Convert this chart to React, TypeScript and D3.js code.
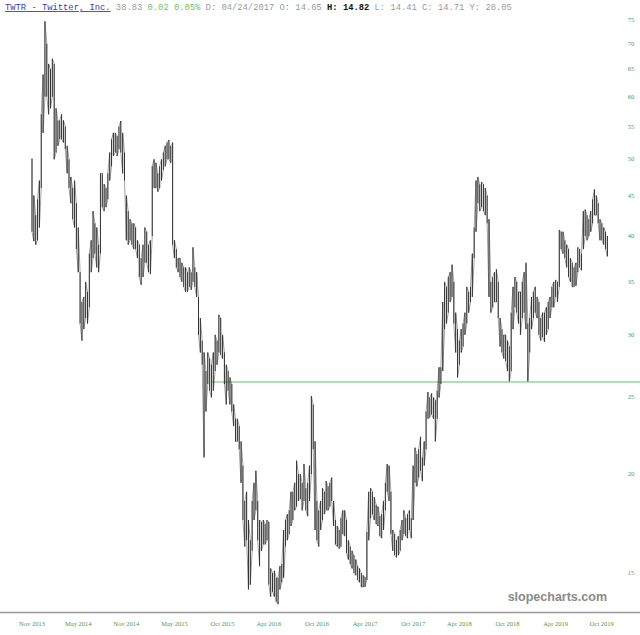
import React from "react";
import * as d3 from "d3";

// Weekly high / low of TWTR, Nov 2013 – Oct 2019
const highs: number[] = [
  50.1, 45.0, 42.5, 44.5, 47, 57, 64, 74.7, 70, 66, 65, 67, 66, 58, 56, 56, 57, 56, 55, 52,
  50, 47.5, 46, 47, 44, 41, 36, 33, 33.5, 35, 34, 38, 39.5, 43, 41.5, 41, 39, 48, 48, 46.5,
  46, 48, 51, 53, 54, 54, 53.5, 55, 55.9, 54, 51, 45, 43, 42, 41.5, 41.5, 41, 39.5, 39, 37.5,
  39, 41, 40.5, 39, 39.5, 49, 50, 49.5, 48, 49, 50, 51, 52, 52.5, 52.9, 52, 52.5, 39.5, 38.5, 37.5,
  37.5, 37, 36.5, 36.5, 36, 36.5, 36, 38.7, 36.5, 36, 33.5, 31.5, 29.5, 28.5, 27, 28.5, 28, 27.5,
  28.5, 30, 29.5, 31.8, 31.5, 30, 28.5, 27.5, 27, 26.5, 26, 24.5, 23.5, 23.5, 23, 22, 20.5, 18.5,
  19, 17.5, 16.5, 18.5, 19.5, 20.2, 18.5, 17.5, 17.4, 17.5, 17.3, 17.5, 17.4, 15.2, 15, 15.1, 14.8, 14.8,
  15.3, 15.4, 17, 17.5, 17.8, 18, 19, 19, 19.5, 20.8, 20, 20, 19.5, 20.6, 19.2, 19.5, 20.5, 25.1,
  24.5, 22, 18.5, 18, 18.5, 19.2, 19, 19.6, 19.3, 19.5, 19.8, 18.5, 17.5, 17.2, 17, 17.6, 18, 18,
  17.5, 16.5, 16.2, 16, 15.8, 15.6, 15.3, 15.2, 15, 14.9, 14.82, 16.9, 19, 19.2, 19, 18.7, 18.3, 18.2,
  17.7, 17.8, 18.5, 19.5, 20.6, 20.5, 19, 17, 16.8, 16.5, 16.7, 17, 17.5, 18, 17.6, 17.8, 18, 17.6,
  20.5, 21.6, 21.2, 21.5, 22.3, 21, 22, 24, 25.4, 25, 25.3, 25, 24.8, 25.5, 27.3, 27.3, 33, 35,
  34.5, 35.5, 36, 36.8, 35, 32, 30.5, 29.5, 30.5, 31, 32, 34.5, 34, 34.5, 38, 41, 47, 47.5,
  46.5, 46.8, 46.5, 46, 45, 42, 35, 35.5, 36, 36.3, 35, 31.5, 30.5, 30, 30, 29.5, 29, 32,
  34.5, 35.5, 35, 34, 34, 35, 36, 37, 31, 31.5, 33.5, 34, 34.5, 33.5, 33, 31.5, 32, 32,
  32.5, 33, 33.5, 34.5, 35, 35.2, 35, 40.7, 40.5, 40.5, 39.5, 39, 38.5, 37.5, 37, 36.5, 37, 38.7,
  38.5, 38, 43, 43.2, 42.5, 42, 43, 44.5, 45.8, 45, 44, 42, 41.5, 41, 40.5, 40,
];
const lows: number[] = [
  40.5, 39.4, 39.0, 39.5, 41, 46, 54, 60, 60, 57, 58, 60, 50, 51, 52, 53, 53, 52.5, 51.5, 48,
  46, 44, 42, 41, 38.5, 36, 31, 29.5, 30.5, 31.5, 31, 32.5, 36, 37.5, 38, 36.5, 36, 38, 43.5, 43,
  43.5, 44.5, 47, 49, 50.5, 51, 50.5, 51.5, 51, 48, 47, 39.5, 39, 39.5, 39, 38.5, 38.5, 37.5, 35.5, 34.7,
  35.5, 37, 37, 36, 35.8, 40, 46, 46, 45.5, 46, 47, 48.5, 49, 50, 50, 49.5, 39, 37.5, 36.5, 36,
  35.5, 35, 34.5, 34, 34, 34.5, 34.2, 35, 34.5, 33.5, 30, 28.5, 27.5, 21, 24, 26, 25.5, 25,
  25.5, 27, 27.5, 28.5, 28.3, 28, 26, 24.5, 25.5, 24.5, 24, 23, 22, 22, 21.5, 19.5, 17.5, 16.2,
  16.5, 14.3, 14.5, 16, 17.5, 18, 16.5, 15.3, 16, 16.3, 16.3, 16.5, 14.5, 14, 14.2, 14, 13.8, 13.7,
  14.3, 14.6, 14.8, 16.2, 16.5, 16.8, 17.2, 17.5, 18, 18.2, 18.5, 18.6, 18, 18.5, 18, 17.7, 18.5, 20,
  21.5, 17, 16.5, 16.2, 17, 17.5, 17.8, 18, 18, 18.2, 18.5, 17.2, 16.3, 16.2, 16.1, 16.2, 16.8, 16.7,
  15.9, 15.6, 15.4, 15.2, 15, 14.9, 14.7, 14.6, 14.4, 14.4, 14.41, 14.7, 16.5, 17.6, 17.8, 17.5, 17.3, 17.2,
  16.7, 16.6, 17, 18, 19, 18.5, 16.8, 16, 15.8, 15.7, 15.8, 16, 16.5, 16.8, 16.7, 16.6, 17, 16.6,
  17.5, 19.5, 19.3, 19.8, 20.2, 19.6, 20.5, 21.5, 23.5, 23.6, 23.8, 23.5, 22, 23.5, 25, 26, 27, 30.5,
  31, 32, 33, 33.5, 31, 28.5, 26.5, 27.5, 28.5, 29, 30, 31, 32, 33, 33.5, 37.5, 40.5, 44,
  43, 43.5, 43, 42.5, 41.5, 33.5, 32, 32.5, 33, 33, 31.5, 29, 28.5, 28, 27.8, 27, 26.2, 27,
  30.5, 32.5, 32, 31, 30, 31.5, 32, 30.5, 26.2, 28.5, 30.5, 31.5, 32, 31.5, 30, 29.5, 29.8, 29.4,
  30, 30.5, 31.5, 32.5, 32.5, 33.5, 33, 34.5, 38.5, 38, 37.5, 36.5, 35.5, 35, 34.5, 34.5, 34.6, 36,
  36.5, 36.2, 38.5, 40, 39.5, 40, 40.5, 41.5, 42.5, 42.5, 41.5, 39.5, 39.5, 39, 38.5, 37.7,
];

const priceTicks: number[] = [15, 20, 25, 30, 35, 40, 45, 50, 55, 60, 65, 70, 75];
const timeTickIndex: number[] = [0, 25, 51, 77, 103, 128, 154, 180, 206, 231, 257, 283, 308];
const timeTickLabels: string[] = [
  "Nov 2013", "May 2014", "Nov 2014", "May 2015", "Oct 2015", "Apr 2016", "Oct 2016",
  "Apr 2017", "Oct 2017", "Apr 2018", "Oct 2018", "Apr 2019", "Oct 2019",
];
const supportLevel = 26.15;
const supportStartIndex = 97;

const W = 640;
const H = 635;

export default function App() {
  const n = highs.length;
  const x = d3.scaleLinear().domain([0, n - 1]).range([32, 607.4]);
  const y = d3.scaleLog().domain([15, 75]).range([573, 20]);
  const serif = "'Liberation Serif', 'DejaVu Serif', serif";
  const mono = "'Liberation Mono', 'DejaVu Sans Mono', monospace";

  // zig-zag path joining consecutive bars (alternating ends) to mimic dense daily bars
  const pts: [number, number][] = [];
  highs.forEach((h, i) => {
    const a: [number, number] = [x(i), y(h)];
    const b: [number, number] = [x(i), y(lows[i])];
    if (i % 2 === 0) pts.push(a, b);
    else pts.push(b, a);
  });
  const zig = d3.line()(pts) || "";

  return (
    <svg
      width={W}
      height={H}
      style={{ position: "absolute", left: 0, top: 0, background: "#fff" }}
    >
      <rect x={0} y={0} width={W} height={H} fill="#fff" />
      {/* header */}
      <text x={5} y={10} fontFamily={mono} fontSize={8.8} xmlSpace="preserve">
        <tspan fill="#3b3bb8" textDecoration="underline">TWTR - Twitter, Inc.</tspan>
        <tspan fill="#9a9a9a"> 38.83 </tspan>
        <tspan fill="#6cbf6c">0.02 0.05%</tspan>
        <tspan fill="#9a9a9a"> D: 04/24/2017 O: 14.65 </tspan>
        <tspan fill="#111" fontWeight="bold">H: 14.82</tspan>
        <tspan fill="#9a9a9a"> L: 14.41 C: 14.71 Y: 28.05</tspan>
      </text>

      {/* price axis labels */}
      {priceTicks.map((p) => (
        <text
          key={p}
          x={631}
          y={y(p) + 2}
          textAnchor="middle"
          fontFamily={serif}
          fontSize={6.5}
          fill="#4c9a4c"
        >
          {p}
        </text>
      ))}

      {/* support line */}
      <line
        x1={x(supportStartIndex)}
        x2={W}
        y1={y(supportLevel)}
        y2={y(supportLevel)}
        stroke="#9ad69a"
        strokeWidth={1.5}
      />

      {/* price bars */}
      <path d={zig} fill="none" stroke="#555" strokeWidth={0.55} />
      {highs.map((h, i) => (
        <line
          key={i}
          x1={x(i)}
          x2={x(i)}
          y1={y(h)}
          y2={y(lows[i])}
          stroke="#2e2e2e"
          strokeWidth={0.95}
        />
      ))}

      {/* watermark */}
      <text
        x={607}
        y={601}
        textAnchor="end"
        fontFamily="'Liberation Sans', Arial, sans-serif"
        fontWeight="bold"
        fontSize={12.5}
        fill="#8a8a8a"
      >
        slopecharts.com
      </text>

      {/* time axis */}
      <line x1={0} x2={W} y1={612.5} y2={612.5} stroke="#9a9a9a" strokeWidth={1.5} />
      {timeTickIndex.map((t, i) => (
        <text
          key={t}
          x={x(t)}
          y={626}
          textAnchor="middle"
          fontFamily={serif}
          fontSize={6.5}
          fill="#4c9a4c"
        >
          {timeTickLabels[i]}
        </text>
      ))}
    </svg>
  );
}
